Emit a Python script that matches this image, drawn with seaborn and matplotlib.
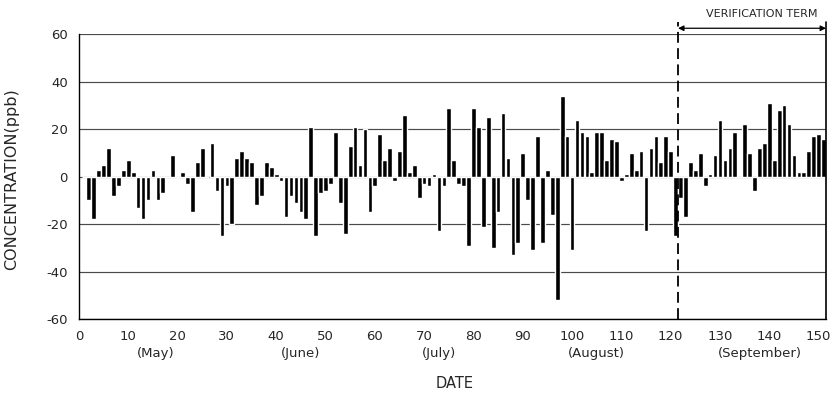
import matplotlib
matplotlib.use("Agg")
import matplotlib.pyplot as plt
import matplotlib.transforms as mtransforms
import pandas as pd
import seaborn as sns

# daily concentration residuals (ppb), day 1 .. 151
days = list(range(1, 152))
conc = [
    0, -10, -18, 3, 5, 12, -8, -4, 3, 7,
    2, -13, -18, -10, 3, -10, -7, 0, 9, 0,
    2, -3, -15, 6, 12, 0, 14, -6, -25, -4,
    -20, 8, 11, 8, 6, -12, -8, 6, 4, 1,
    -2, -17, -8, -11, -15, -18, 21, -25, -7, -6,
    -3, 19, -11, -24, 13, 21, 5, 20, -15, -4,
    18, 7, 12, -2, 11, 26, 2, 5, -9, -3,
    -4, 1, -23, -4, 29, 7, -3, -4, -29, 29,
    21, -21, 25, -30, -15, 27, 8, -33, -28, 10,
    -10, -31, 17, -28, 3, -16, -52, 34, 17, -31,
    24, 19, 17, 2, 19, 19, 7, 16, 15, -2,
    1, 10, 3, 11, -23, 12, 17, 6, 17, 11,
    -25, -9, -17, 6, 3, 10, -4, 1, 9, 24,
    7, 12, 19, 0, 22, 10, -6, 12, 14, 31,
    7, 28, 30, 22, 9, 2, 2, 11, 17, 18,
    16,
]

x_ticks = list(range(0, 151, 10))
y_ticks = [-60, -40, -20, 0, 20, 40, 60]
month_names = ["(May)", "(June)", "(July)", "(August)", "(September)"]
month_pos = [15.5, 45, 73, 105, 138]

verif_start = 121.5
x_end = 151.5

df = pd.DataFrame({"day": days, "conc": conc})

sns.set_style("white")
plt.rcParams["font.family"] = ["DejaVu Sans"]

fig = plt.figure(figsize=(8.31, 3.93), dpi=100)
ax = fig.add_axes([0.095, 0.188, 0.899, 0.725])

sns.barplot(data=df, x="day", y="conc", native_scale=True, color="black",
            saturation=1, width=0.95, errorbar=None, ax=ax)

ax.set_xlim(0, x_end)
ax.set_ylim(-60, 60)
ax.set_xticks(x_ticks)
ax.set_xticklabels([str(t) for t in x_ticks], fontsize=9.5)
ax.set_yticks(y_ticks)
ax.set_yticklabels([str(t) for t in y_ticks], fontsize=9.5)
ax.tick_params(axis="both", direction="out", length=4, width=0.9, color="black", pad=4)
ax.set_xlabel("")
ax.set_ylabel("")

ax.yaxis.grid(True, color="#4a4a4a", linewidth=0.85)
ax.set_axisbelow(True)
for side in ["top", "right"]:
    ax.spines[side].set_visible(False)
for side in ["left", "bottom"]:
    ax.spines[side].set_color("black")
    ax.spines[side].set_linewidth(1.0)

# verification term markers
ax.plot([verif_start, verif_start], [-60, 65], color="black", lw=1.3,
        ls=(0, (6, 3)), clip_on=False)
ax.plot([x_end, x_end], [-60, 65], color="black", lw=1.2, clip_on=False)
ax.annotate("", xy=(verif_start, 62.5), xytext=(x_end, 62.5),
            arrowprops=dict(arrowstyle="<|-|>", color="black", lw=0.9,
                            mutation_scale=8, shrinkA=0, shrinkB=0),
            annotation_clip=False)
ax.text(138.5, 68.5, "VERIFICATION TERM", ha="center", va="center",
        fontsize=8, clip_on=False)

trans = mtransforms.blended_transform_factory(ax.transData, ax.transAxes)
for name, pos in zip(month_names, month_pos):
    ax.text(pos, -0.12, name, transform=trans, ha="center", va="center", fontsize=9.5)

ax.text(0.503, -0.225, "DATE", transform=ax.transAxes, ha="center", va="center", fontsize=10.5)
ax.text(-0.09, 0.49, "CONCENTRATION(ppb)", transform=ax.transAxes, rotation=90,
        ha="center", va="center", fontsize=11.5)

fig.savefig("out.png", dpi=100)
plt.close(fig)
